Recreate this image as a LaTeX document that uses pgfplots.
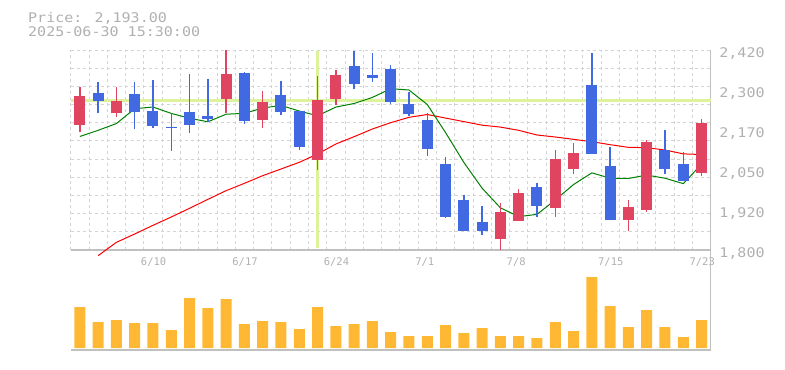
\documentclass[border=0pt]{standalone}
\usepackage{pgfplots}
\pgfplotsset{compat=1.18}
\usepackage{fontspec}
\newfontfamily\mono[FakeStretch=1.13]{DejaVu Sans Mono}
\newfontfamily\monox{DejaVu Sans Mono}
\definecolor{upc}{RGB}{224,68,96}
\definecolor{dnc}{RGB}{65,105,225}
\definecolor{volc}{RGB}{255,184,51}
\definecolor{gridc}{RGB}{212,212,212}
\definecolor{axc}{RGB}{192,192,192}
\definecolor{txtc}{RGB}{176,176,176}
\definecolor{crossc}{RGB}{222,242,155}
\definecolor{maS}{RGB}{0,128,0}
\definecolor{maL}{RGB}{255,0,0}
\begin{document}
\begin{tikzpicture}
\useasboundingbox (0,0) rectangle (785bp,370bp);
\pgfplotsset{
  panel/.style={scale only axis, width=640bp, xmin=-0.5, xmax=34.5, anchor=south west,
    axis x line*=bottom, axis y line*=right, axis line style={draw=axc, line width=1.1bp},
    major tick length=0pt, minor tick length=0pt,
    minor xtick={-0.5,0.5,...,34.5}, xminorgrids=true,
    minor grid style={draw=gridc, line width=0.9bp, dash pattern=on 3bp off 3bp}},
}
% volume panel
\begin{axis}[panel, at={(70.7bp,20bp)}, height=100bp, ymin=-2, ymax=98, xtick=\empty, ytick=\empty]
\addplot[ybar, bar width=11bp, bar shift=0pt, fill=volc, draw=none] coordinates {
(0,41) (1,26) (2,28) (3,25) (4,25) (5,18) (6,50) (7,40) (8,49) (9,24)
(10,27) (11,26) (12,19) (13,41) (14,22) (15,24) (16,27) (17,16) (18,12) (19,12)
(20,23) (21,15) (22,20) (23,12) (24,12) (25,10) (26,26) (27,17) (28,71) (29,42)
(30,21) (31,38) (32,21) (33,11) (34,28)};
\end{axis}
% price panel
\begin{axis}[panel, at={(70.7bp,120bp)}, height=200bp, ymin=1800, ymax=2420, clip=false,
  unbounded coords=jump,
  ytick={1800,1924,2048,2172,2296,2420},
  yticklabels={{1,800},{1,920},{2,050},{2,170},{2,300},{2,420}},
  minor ytick={1856.36,1912.73,1969.09,2025.45,2081.82,2138.18,2194.55,2250.91,2307.27,2363.64,2420},
  yminorgrids=true,
  xtick={4,9,14,19,24,29,34},
  xticklabels={6/10,6/17,6/24,7/1,7/8,7/15,7/23},
  yticklabel style={font=\mono\fontsize{13.3bp}{15bp}\selectfont, text=txtc, anchor=base west, inner sep=0pt, xshift=8.5bp, yshift=-7.3bp},
  xticklabel style={font=\monox\fontsize{10.5bp}{12bp}\selectfont, text=txtc, anchor=base west, inner sep=0pt, xshift=-12.2bp, yshift=-16bp}]
% crosshair
\addplot[crossc, line width=2.5bp] coordinates {(-0.5,2263.5) (34.5,2263.5)};
\addplot[crossc, line width=3bp] coordinates {(13,2416) (13,1806)};
% 25-day MA
\addplot[maL, line width=1bp] coordinates {
(1,1782.5) (2,1823.8) (3,1849.6) (4,1876.5) (5,1902.3) (6,1929.2) (7,1957) (8,1984) (9,2006.7)
(10,2030.4) (11,2051) (12,2071.8) (13,2097.6) (14,2128.6) (15,2151.3) (16,2175.1) (17,2194.7)
(18,2211.3) (19,2220) (20,2209) (21,2198) (22,2187) (23,2181) (24,2171) (25,2156.5) (26,2150.3)
(27,2143) (28,2135.8) (29,2126.5) (30,2118.3) (31,2117.2) (32,2110) (33,2098) (34,2096)};
% 5-day MA
\addplot[maS, line width=1bp] coordinates {
(0,2152) (1,2171) (2,2192) (3,2238) (4,2243.3) (5,2223.4) (6,2208.5) (7,2197.5) (8,2220.9)
(9,2223.8) (10,2240.1) (11,2248.2) (12,2230.8) (13,2216) (14,2243.1) (15,2254.2) (16,2273)
(17,2300) (18,2296) (19,2251) (20,2164) (21,2071.5) (22,1991.5) (23,1930.8) (24,1903.4)
(25,1910.5) (26,1954.9) (27,2003) (28,2039.2) (29,2022.6) (30,2021.7) (31,2032.3) (32,2022.5)
(33,2005.8) (34,2065.7)};
% wicks up
\addplot[upc, line width=1.4bp] coordinates {
(0,2167) (0,2305) (0,nan)
(2,2213) (2,2305) (2,nan)
(8,2226) (8,2420) (8,nan)
(10,2179) (10,2293) (10,nan)
(13,2049) (13,2339) (13,nan)
(14,2249.5) (14,2358) (14,nan)
(23,1801) (23,1946) (23,nan)
(24,1889) (24,1989) (24,nan)
(26,1903) (26,2110) (26,nan)
(27,2036.6) (27,2131.7) (27,nan)
(30,1860) (30,1955) (30,nan)
(31,1919) (31,2141) (31,nan)
(34,2030.5) (34,2206)};
% wicks down
\addplot[dnc, line width=1.4bp] coordinates {
(1,2226) (1,2321) (1,nan)
(3,2176) (3,2321) (3,nan)
(4,2179) (4,2327) (4,nan)
(5,2108) (5,2224) (5,nan)
(6,2164) (6,2346) (6,nan)
(7,2198) (7,2330) (7,nan)
(9,2192) (9,2352) (9,nan)
(11,2219.5) (11,2324) (11,nan)
(12,2111) (12,2232) (12,nan)
(15,2299) (15,2417) (15,nan)
(16,2321) (16,2411) (16,nan)
(17,2254) (17,2373.5) (17,nan)
(18,2215) (18,2290) (18,nan)
(19,2092.5) (19,2224) (19,nan)
(20,1899) (20,2088) (20,nan)
(21,1858) (21,1970.5) (21,nan)
(22,1847.5) (22,1936) (22,nan)
(25,1903) (25,2008) (25,nan)
(28,2098) (28,2410.7) (28,nan)
(29,1893) (29,2119) (29,nan)
(32,2036.6) (32,2172) (32,nan)
(33,2013) (33,2104)};
% bodies up (open -> close)
\addplot[upc, line width=11bp, line cap=butt] coordinates {
(0,2188.5) (0,2277) (0,nan)
(2,2226) (2,2262) (2,nan)
(8,2269) (8,2346) (8,nan)
(10,2204) (10,2259) (10,nan)
(13,2080) (13,2265) (13,nan)
(14,2269) (14,2342.5) (14,nan)
(23,1835) (23,1918) (23,nan)
(24,1891) (24,1977) (24,nan)
(26,1931) (26,2082) (26,nan)
(27,2052) (27,2100.7) (27,nan)
(30,1894) (30,1933) (30,nan)
(31,1925) (31,2135) (31,nan)
(34,2039.7) (34,2193.7)};
% bodies down (open -> close)
\addplot[dnc, line width=11bp, line cap=butt] coordinates {
(1,2287) (1,2263) (1,nan)
(3,2284) (3,2229) (3,nan)
(4,2231) (4,2185.5) (4,nan)
(5,2182) (5,2177.5) (5,nan)
(6,2228) (6,2188.5) (6,nan)
(7,2215) (7,2207) (7,nan)
(9,2349) (9,2200) (9,nan)
(11,2280.5) (11,2229) (11,nan)
(12,2231) (12,2120) (12,nan)
(15,2370) (15,2314.6) (15,nan)
(16,2342.5) (16,2334) (16,nan)
(17,2361) (17,2260) (17,nan)
(18,2252.6) (18,2221.6) (18,nan)
(19,2203) (19,2114) (19,nan)
(20,2066.6) (20,1902) (20,nan)
(21,1955) (21,1860) (21,nan)
(22,1887) (22,1860) (22,nan)
(25,1995) (25,1937.5) (25,nan)
(28,2311.5) (28,2098.6) (28,nan)
(29,2060) (29,1894) (29,nan)
(32,2110) (32,2052) (32,nan)
(33,2066.6) (33,2015)};
\end{axis}
\node[anchor=base west, inner sep=0pt, text=txtc, font=\mono\fontsize{13.3bp}{15bp}\selectfont] at (28bp,347.3bp) {Price: 2,193.00};
\node[anchor=base west, inner sep=0pt, text=txtc, font=\mono\fontsize{13.3bp}{15bp}\selectfont] at (28bp,333bp) {2025-06-30 15:30:00};
\end{tikzpicture}
\end{document}
